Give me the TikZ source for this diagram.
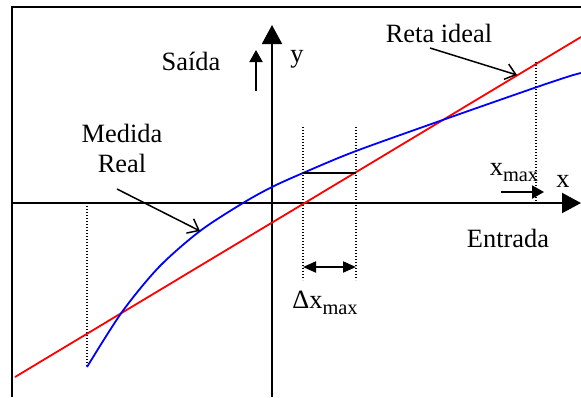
\documentclass[tikz,border=0pt]{standalone}
\usepackage{fontspec}
\setmainfont{Liberation Serif}
\usetikzlibrary{arrows.meta}
\newcommand\mysub[1]{\raisebox{-0.55ex}{\fontsize{10.2}{10.2}\selectfont #1}}
\begin{document}
\begin{tikzpicture}[x=0.5pt,y=-0.5pt,
  lbl/.style={inner sep=0pt,anchor=base,font=\fontsize{13.2}{15}\selectfont},
  axisline/.style={line width=1pt,-{Triangle[length=9.5pt,width=10pt]}},
  smallarr/.style={line width=1pt,-{Triangle[length=6pt,width=6.5pt]}},
  dblarr/.style={line width=1pt,{Triangle[length=6.5pt,width=5.5pt]}-{Triangle[length=6.5pt,width=5.5pt]}},
  openarr/.style={line width=0.75pt,-{Straight Barb[length=5pt,width=8pt]}},
  dots/.style={line width=0.6pt,dash pattern=on 0.6pt off 0.9pt},
  curve/.style={line width=0.9pt}
]
\useasboundingbox (0,0) rectangle (581,397);
% frame
\draw[line width=1.1pt] (12,397) -- (12,7) -- (581,7);
% dotted guides
\draw[dots] (87,203) -- (87,367);
\draw[dots] (303,127) -- (303,280);
\draw[dots] (356,127) -- (356,280);
\draw[dots] (536,62) -- (536,203);
% axes
\coordinate (xs) at (12,203);
\coordinate (xe) at (581,203);
\coordinate (ys) at (272,397);
\coordinate (ye) at (272,25);
\draw[axisline] (xs) -- (xe);
\draw[axisline] (ys) -- (ye);
% ideal line
\coordinate (r1) at (15,377);
\coordinate (r2) at (581,37);
\draw[curve,red] (r1) -- (r2);
% real measure
\draw[curve,blue] plot[smooth,tension=0.5] coordinates {(87,367) (122,312) (159,267) (200,231) (243,203) (272,187) (303,173) (356,151) (454,116) (537,87) (570,76) (581,73)};
% horizontal segment
\coordinate (h1) at (303,173);
\coordinate (h2) at (356,173);
\draw[line width=1pt] (h1) -- (h2);
% delta arrow
\coordinate (d1) at (303,267);
\coordinate (d2) at (356,267);
\draw[dblarr] (d1) -- (d2);
% small arrows
\coordinate (sa1) at (256,91);
\coordinate (sa2) at (256,50);
\draw[smallarr] (sa1) -- (sa2);
\coordinate (xa1) at (501,192);
\coordinate (xa2) at (544,192);
\draw[smallarr] (xa1) -- (xa2);
% labels
\node[lbl] (saida) at (191,70) {Saída};
\node[lbl] (ylab) at (297,62) {y};
\node[lbl] (reta) at (439,42) {Reta ideal};
\node[lbl] (medida) at (122,142) {Medida};
\node[lbl] (real) at (122,172) {Real};
\node[lbl] (entrada) at (508,247) {Entrada};
\node[lbl] (xmax) at (514,175) {x\mysub{max}};
\node[lbl] (xlab) at (563,187) {x};
\node[lbl] (dx) at (325,308) {Δx\mysub{max}};
% pointer arrows
\coordinate (ra1) at (430,48);
\coordinate (ra2) at (517,75);
\draw[openarr] (ra1) -- (ra2);
\coordinate (ma1) at (117,189);
\coordinate (ma2) at (200,231);
\draw[openarr] (ma1) -- (ma2);
\end{tikzpicture}
\end{document}
